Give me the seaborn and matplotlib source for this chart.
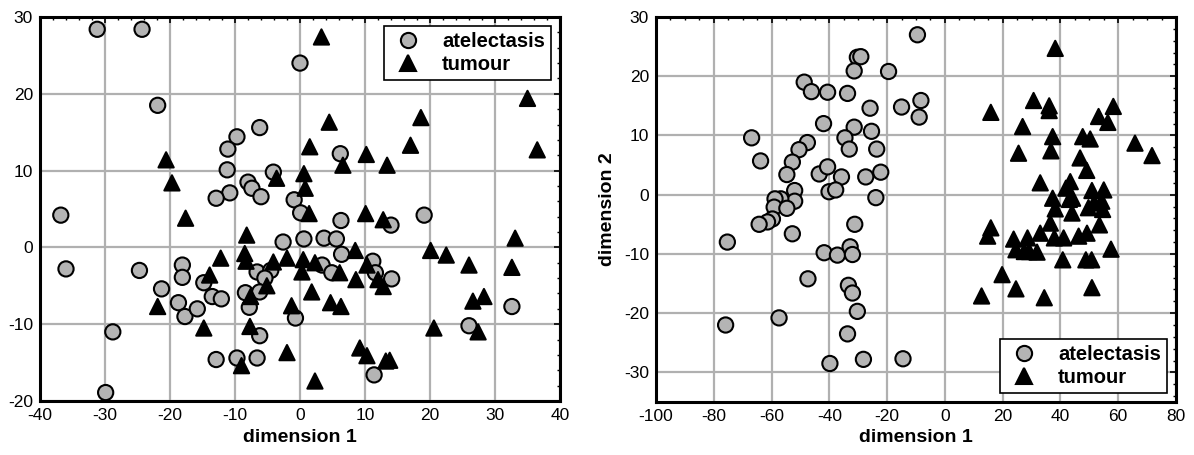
import numpy as np
import pandas as pd
import matplotlib
matplotlib.use("Agg")
import matplotlib.pyplot as plt
from matplotlib.ticker import MultipleLocator
import seaborn as sns

# ---------------- data: left panel ----------------
left_atel_x = [-31.2, -24.3, -21.9, 0.0, -36.8, -36.0, -28.8, -29.9, -24.7, -21.3,
               -18.1, -18.1, -18.7, -17.7, -15.8, -14.8, -13.5, -12.1, -12.9, -9.7,
               -6.6, -6.2, -8.4, -7.8, -6.6, -4.5, -5.4, -6.2, -2.6, -0.7,
               0.6, 3.7, 5.6, 6.4, 3.4, 4.9, 11.2, 11.6, 14.1, 11.4,
               26.0, 32.6, 6.2, -0.9, 0.1, 6.3, 14.0, 19.1, -9.7, -11.1,
               -6.2, -11.2, -10.8, -12.9, -8.0, -7.4, -6.0, -4.1]
left_atel_y = [28.4, 28.4, 18.5, 24.0, 4.2, -2.8, -11.0, -18.9, -3.0, -5.4,
               -2.3, -3.9, -7.2, -9.0, -8.0, -4.6, -6.4, -6.7, -14.6, -14.4,
               -14.4, -11.5, -5.9, -7.8, -3.2, -3.0, -4.0, -5.8, 0.7, -9.2,
               1.1, 1.2, 1.1, -0.9, -2.3, -3.3, -1.8, -3.3, -4.1, -16.6,
               -10.2, -7.7, 12.2, 6.2, 4.5, 3.5, 2.9, 4.2, 14.4, 12.8,
               15.6, 10.1, 7.1, 6.4, 8.5, 7.7, 6.6, 9.8]
left_tum_x = [-20.6, -19.7, -17.6, -3.6, 3.3, 35.0, 36.5, 4.5, 18.6, 17.0,
              1.5, 10.2, 6.6, 13.4, 0.6, 0.8, 1.4, 10.1, 12.8, 8.5,
              20.1, 22.5, 26.0, 33.1, 32.6, 26.6, 28.3, 27.4, 20.6, -2.0,
              9.2, 10.3, 13.2, 13.8, 2.3, -2.0, 0.5, 2.3, 0.3, 6.1,
              8.6, 10.3, 12.0, 12.8, 1.8, 4.7, 6.3, -1.3, -8.2, -8.5,
              -8.3, -12.2, -13.9, -21.9, -14.8, -7.6, -7.7, -9.0, -4.1, -5.1]
left_tum_y = [11.4, 8.4, 3.8, 9.0, 27.4, 19.4, 12.7, 16.3, 16.9, 13.3,
              13.1, 12.1, 10.7, 10.7, 9.6, 7.7, 4.4, 4.4, 3.6, -0.4,
              -0.4, -1.0, -2.3, 1.2, -2.6, -7.0, -6.4, -11.0, -10.5, -13.7,
              -13.1, -14.1, -14.8, -14.7, -17.4, -1.4, -1.6, -2.0, -3.2, -3.3,
              -4.2, -2.3, -4.2, -5.1, -5.8, -7.2, -7.7, -7.6, 1.6, -0.8,
              -1.8, -1.4, -3.6, -7.7, -10.5, -6.4, -10.3, -15.4, -1.9, -5.0]

# ---------------- data: right panel ----------------
right_atel_x = [-66.9, -63.8, -48.7, -46.2, -40.6, -33.7, -30.3, -29.1, -31.4, -19.5,
                -25.9, -15.0, -42.0, -31.4, -34.6, -33.1, -25.4, -23.6, -47.6, -50.5,
                -52.8, -54.7, -43.5, -40.6, -35.8, -27.4, -22.2, -23.9, -40.1, -37.8,
                -52.0, -52.0, -56.8, -58.8, -59.1, -54.7, -59.7, -61.4, -64.3, -31.2,
                -52.8, -75.3, -41.8, -37.2, -32.8, -32.0, -47.4, -33.4, -32.0, -30.3,
                -57.4, -75.9, -33.7, -39.8, -28.2, -14.5, -9.5, -8.3, -8.9]
right_atel_y = [9.6, 5.7, 19.0, 17.4, 17.3, 17.1, 23.2, 23.3, 20.9, 20.8,
                14.6, 14.8, 12.0, 11.4, 9.6, 7.7, 10.7, 7.7, 8.8, 7.6,
                5.5, 3.4, 3.5, 4.7, 3.0, 3.0, 3.8, -0.5, 0.5, 0.8,
                0.7, -1.1, -0.7, -0.7, -2.1, -2.3, -4.1, -4.6, -5.0, -5.0,
                -6.6, -8.0, -9.8, -10.2, -8.8, -10.1, -14.2, -15.3, -16.6, -19.7,
                -20.8, -22.0, -23.5, -28.5, -27.8, -27.7, 27.0, 15.9, 13.1]
right_tum_x = [38.2, 15.9, 30.7, 36.1, 36.1, 26.9, 58.3, 53.2, 56.4, 37.3,
               36.7, 25.5, 47.7, 50.3, 65.8, 71.7, 46.8, 49.1, 33.0, 43.4,
               41.9, 44.2, 43.1, 50.9, 55.0, 37.3, 38.2, 44.0, 49.7, 54.3,
               54.6, 51.7, 36.5, 53.5, 15.9, 14.8, 23.8, 24.6, 28.6, 27.5,
               29.2, 31.9, 33.0, 37.9, 41.1, 40.8, 46.3, 49.2, 57.5, 48.8,
               50.8, 19.8, 24.6, 12.7, 34.4, 50.9]
right_tum_y = [24.7, 13.9, 15.9, 15.0, 14.2, 11.5, 14.9, 13.2, 12.2, 9.8,
               7.4, 7.0, 9.8, 9.4, 8.7, 6.6, 6.2, 4.1, 2.0, 2.2,
               1.1, -0.6, -0.8, 0.7, 0.8, -0.6, -2.4, -3.1, -2.2, -1.1,
               -2.5, -1.4, -4.8, -5.1, -5.6, -7.0, -7.5, -9.3, -7.3, -9.6,
               -9.6, -9.7, -6.5, -7.3, -7.3, -11.0, -7.0, -6.5, -9.2, -11.0,
               -11.0, -13.5, -15.9, -17.1, -17.4, -15.7]

groups = ["atelectasis", "tumour"]
left_xticks = [-40, -30, -20, -10, 0, 10, 20, 30, 40]
left_yticks = [-20, -10, 0, 10, 20, 30]
right_xticks = [-100, -80, -60, -40, -20, 0, 20, 40, 60, 80]
right_yticks = [-30, -20, -10, 0, 10, 20, 30]


def make_df(ax_, ay_, tx_, ty_):
    return pd.DataFrame({
        "x": list(ax_) + list(tx_),
        "y": list(ay_) + list(ty_),
        "group": [groups[0]] * len(ax_) + [groups[1]] * len(tx_),
    })


df_left = make_df(left_atel_x, left_atel_y, left_tum_x, left_tum_y)
df_right = make_df(right_atel_x, right_atel_y, right_tum_x, right_tum_y)

sns.set_style("white")
plt.rcParams["font.family"] = ["Liberation Sans", "DejaVu Sans"]
plt.rcParams["axes.unicode_minus"] = False
plt.rcParams["text.color"] = "black"
plt.rcParams["axes.labelcolor"] = "black"
plt.rcParams["xtick.color"] = "black"
plt.rcParams["ytick.color"] = "black"

fig = plt.figure(figsize=(11.94, 4.55), dpi=100)
ax1 = fig.add_axes([40 / 1194, 1 - 401 / 455, 520 / 1194, 384 / 455])
ax2 = fig.add_axes([656 / 1194, 1 - 402 / 455, 520 / 1194, 385 / 455])

palette = {"atelectasis": "#b4b4b4", "tumour": "#000000"}
markers = {"atelectasis": "o", "tumour": "^"}


def draw(ax, df, xlim, ylim, xticks, yticks, xminor, yminor, legend_loc, ylabel):
    sns.scatterplot(data=df, x="x", y="y", hue="group", style="group",
                    palette=palette, markers=markers, hue_order=groups,
                    style_order=groups, s=120, edgecolor="black", linewidth=1.5,
                    ax=ax, zorder=3, legend=True)
    ax.set_xlim(*xlim)
    ax.set_ylim(*ylim)
    ax.set_xticks(xticks)
    ax.set_yticks(yticks)
    ax.xaxis.set_minor_locator(MultipleLocator(xminor))
    ax.yaxis.set_minor_locator(MultipleLocator(yminor))
    ax.grid(True, which="major", color="#b0b0b0", linewidth=1.6, zorder=0)
    ax.set_axisbelow(True)
    for sp in ax.spines.values():
        sp.set_visible(True)
        sp.set_color("black")
        sp.set_linewidth(2.2)
    ax.tick_params(which="major", direction="in", length=4, width=1.2,
                   top=True, right=True, labelsize=12.5, pad=5,
                   colors="black", labelcolor="black")
    ax.tick_params(which="minor", direction="in", length=2.5, width=1.0,
                   top=True, right=True, colors="black")
    ax.set_xlabel("dimension 1", fontsize=14, fontweight="bold", labelpad=4,
                  color="black")
    if ylabel:
        ax.set_ylabel(ylabel, fontsize=14, fontweight="bold", labelpad=6,
                      color="black")
    else:
        ax.set_ylabel("")
    handles, labels = ax.get_legend_handles_labels()
    for h in handles:
        try:
            h.set_markeredgecolor("black")
            h.set_markeredgewidth(1.5)
        except Exception:
            pass
    leg = ax.legend(handles, labels, loc=legend_loc, frameon=True, fancybox=False,
                    edgecolor="black", framealpha=1, borderaxespad=0.45,
                    prop={"weight": "bold", "size": 14.5}, handletextpad=0.8,
                    borderpad=0.3, labelspacing=0.2, markerscale=1.0,
                    handlelength=1.8, labelcolor="black")
    leg.get_frame().set_linewidth(1.2)


draw(ax1, df_left, (-40, 40), (-20, 30), left_xticks, left_yticks, 2, 2,
     "upper right", None)
draw(ax2, df_right, (-100, 80), (-35, 30), right_xticks, right_yticks, 5, 2,
     "lower right", "dimension 2")

fig.savefig("out.png", dpi=100, facecolor="white")
